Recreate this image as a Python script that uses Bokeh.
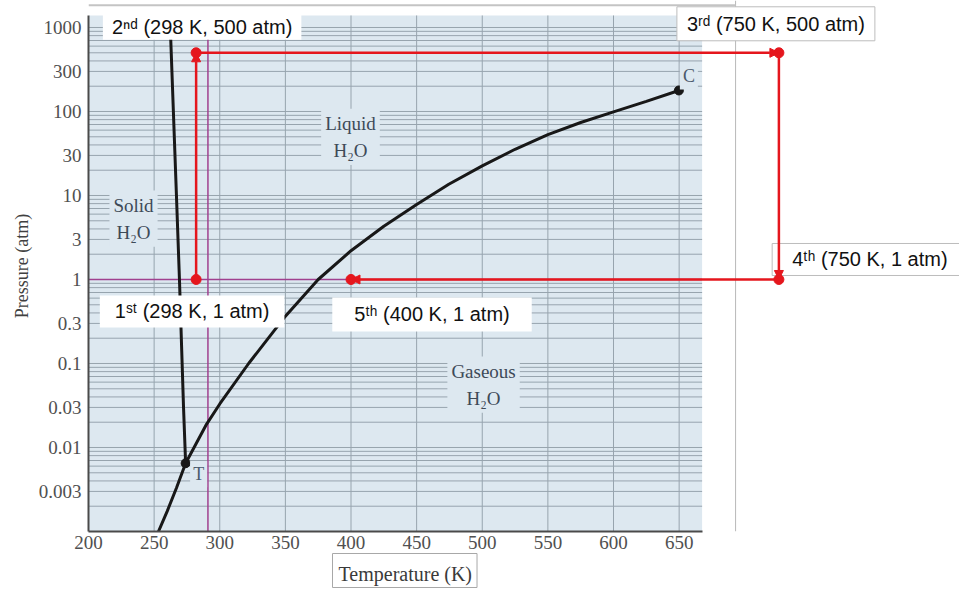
import numpy as np
from bokeh.plotting import figure
from bokeh.models import (ColumnDataSource, Label, Arrow, NormalHead, FixedTicker, Title,
                          CustomJSTickFormatter, Span, Range1d)
from bokeh.embed import file_html
from bokeh.resources import INLINE

# ---------------- data ----------------
x_ticks = [200, 250, 300, 350, 400, 450, 500, 550, 600, 650]
y_ticks = [0.003, 0.01, 0.03, 0.1, 0.3, 1, 3, 10, 30, 100, 300, 1000]
y_tick_labels = ["0.003", "0.01", "0.03", "0.1", "0.3", "1", "3", "10", "30", "100", "300", "1000"]

chart_T = [200, 667.5]      # temperature extent of the phase diagram (K)
chart_P = [0.001, 1390]     # pressure extent of the phase diagram (atm)

# solid-gas boundary (sublimation)
sub_T = [253.3, 260, 267, 274]
sub_P = [0.001, 0.00175, 0.0033, 0.0065]
# liquid-gas boundary (vaporization), triple point -> critical point
vap_T = [274, 290, 300, 322, 349, 375, 400, 425, 450, 474.5, 500, 525, 550, 575, 600, 625, 649.8]
vap_P = [0.0065, 0.019, 0.033, 0.1, 0.35, 1, 2.2, 4.3, 7.8, 13.6, 22.5, 35.5, 53, 74, 99, 132, 178]
# solid-liquid boundary (melting)
melt_T = [274, 272.4, 269.3, 267, 262]
melt_P = [0.0065, 0.03, 1, 10, 1390]

special_T = [274, 649.8]
special_P = [0.0065, 178]
special_names = ["T", "C"]

guide_T = 291   # purple vertical guide
guide_P = 1     # purple horizontal guide (1 atm)

path_T = [282, 282, 726, 726, 400]
path_P = [1, 500, 500, 1, 1]
path_labels = ["1\u02e2\u1d57 (298 K, 1 atm)", "2\u207f\u1d48 (298 K, 500 atm)",
               "3\u02b3\u1d48 (750 K, 500 atm)", "4\u1d57\u02b0 (750 K, 1 atm)",
               "5\u1d57\u02b0 (400 K, 1 atm)"]

phase_names = ["Solid\nH\u2082O", "Liquid\nH\u2082O", "Gaseous\nH\u2082O"]
phase_T = [234.3, 399.6, 501]
phase_P = [5.3, 50, 0.056]

frame_T = 693        # right edge of the pasted picture
frame_top_P = 1834   # top edge of the pasted picture

# ---------------- styles ----------------
BG = "#dde8f0"
GRID = "#97a4ae"
RED = "#e5161d"
PURPLE = "#a0408f"
BLACK = "#181818"
SERIF = "Liberation Serif"
SANS = "Liberation Sans"

p = figure(width=959, height=589, x_range=Range1d(200, 863.6), y_range=Range1d(0.001, 2096),
           y_axis_type="log", output_backend="svg", toolbar_location=None,
           min_border_left=88, min_border_right=0, min_border_top=0, min_border_bottom=58,
           background_fill_color="white", border_fill_color="white", outline_line_color=None)
p.xgrid.visible = False
p.ygrid.visible = False

# background of the diagram
p.quad(left=[chart_T[0]], right=[chart_T[1]], bottom=[chart_P[0]], top=[chart_P[1]],
       fill_color=BG, line_color=None)

# log-paper grid
h_vals = [k * 10.0 ** d for d in range(-3, 4) for k in range(1, 10)
          if chart_P[0] < k * 10.0 ** d <= chart_P[1]]
p.segment(x0=[chart_T[0]] * len(h_vals), x1=[chart_T[1]] * len(h_vals), y0=h_vals, y1=h_vals,
          line_color=GRID, line_width=1)
v_vals = [t for t in x_ticks if t > chart_T[0]]
p.segment(x0=v_vals, x1=v_vals, y0=[chart_P[0]] * len(v_vals), y1=[chart_P[1]] * len(v_vals),
          line_color=GRID, line_width=1)

# purple guides
p.segment(x0=[guide_T], x1=[guide_T], y0=[chart_P[0]], y1=[chart_P[1]], line_color=PURPLE, line_width=1.5)
p.segment(x0=[chart_T[0]], x1=[chart_T[1]], y0=[guide_P], y1=[guide_P], line_color=PURPLE, line_width=1.5)

# edges of the pasted picture
p.add_layout(Span(location=frame_T, dimension="height", line_color="#b8b8b8", line_width=1, level="underlay"))
p.segment(x0=[chart_T[0]], x1=[frame_T], y0=[frame_top_P], y1=[frame_top_P],
          line_color="#c4c4c4", line_width=2)

# phase boundaries
p.line(sub_T, sub_P, line_color=BLACK, line_width=3)
p.line(vap_T, vap_P, line_color=BLACK, line_width=3)
p.line(melt_T, melt_P, line_color=BLACK, line_width=3)
p.scatter(special_T, special_P, size=9, color=BLACK)

# axes
p.xaxis.ticker = FixedTicker(ticks=x_ticks)
p.xaxis.bounds = (chart_T[0], chart_T[1])
p.yaxis.ticker = FixedTicker(ticks=y_ticks, minor_ticks=[])
p.yaxis.bounds = (chart_P[0], chart_P[1])
p.yaxis.formatter = CustomJSTickFormatter(args=dict(vals=y_ticks, labels=y_tick_labels), code="""
    for (let i = 0; i < vals.length; i++) {
        if (Math.abs(vals[i] - tick) < 1e-9 * Math.max(1, Math.abs(tick))) return labels[i];
    }
    return "";
""")
for ax in (p.xaxis[0], p.yaxis[0]):
    ax.axis_line_color = "#4a4a4a"
    ax.axis_line_width = 2
    ax.major_tick_line_color = None
    ax.minor_tick_line_color = None
    ax.major_tick_out = 0
    ax.major_tick_in = 0
    ax.minor_tick_out = 0
    ax.minor_tick_in = 0
    ax.major_label_text_font = SERIF
    ax.major_label_text_font_size = "19px"
    ax.major_label_text_color = "#505050"
p.xaxis.major_label_standoff = 4
p.yaxis.major_label_standoff = 7
p.yaxis.axis_label = "Pressure (atm)"
p.yaxis.axis_label_text_font = SERIF
p.yaxis.axis_label_text_font_size = "18px"
p.yaxis.axis_label_text_font_style = "normal"
p.yaxis.axis_label_text_color = "#404040"
p.yaxis.axis_label_standoff = 4

# temperature axis title (in a bordered box)
p.add_layout(Title(text="Temperature (K)", align="left", offset=244, standoff=0,
                   text_font=SERIF, text_font_size="20px", text_font_style="normal",
                   text_color="#3a3a3a", background_fill_color="white",
                   border_line_color="#a8a8a8", padding=dict(left=6, right=5, top=9, bottom=3)),
             "below")

# phase labels
for name, t, pr in zip(phase_names, phase_T, phase_P):
    p.add_layout(Label(x=t, y=pr, text=name, text_align="center", text_baseline="middle",
                       text_font=SERIF, text_font_size="19px", text_color="#3d4a58",
                       text_line_height=1.3, background_fill_color=BG, padding=4))
# T and C labels
for name, t, pr, dx, dy in zip(special_names, special_T, special_P, [13, 10], [-11, 14]):
    p.add_layout(Label(x=t, y=pr, x_offset=dx, y_offset=dy, text=name, text_align="center",
                       text_baseline="middle", text_font=SERIF, text_font_size="18px",
                       text_color="#4b5a6c", background_fill_color=BG, padding=3))

# step labels
lab_dx = [-4, 6, -3, 91, 81]
lab_dy = [-32, 26, 29, 20, -35]
lab_border = [None, None, "#bdbdbd", "#bdbdbd", None]
lab_pad = [dict(left=15, right=15, top=5, bottom=5), dict(left=9, right=9, top=2, bottom=2),
           dict(left=10, right=10, top=6, bottom=6), dict(left=20, right=20, top=5, bottom=5),
           dict(left=22, right=22, top=6, bottom=6)]
for i in range(len(path_T)):
    p.add_layout(Label(x=path_T[i], y=path_P[i], x_offset=lab_dx[i], y_offset=lab_dy[i],
                       text=path_labels[i], text_align="center", text_baseline="middle",
                       text_font=SANS, text_font_size="20px", text_color="#111111",
                       background_fill_color="white", border_line_color=lab_border[i],
                       padding=lab_pad[i]))

# red path with arrows
seg = ColumnDataSource(dict(x0=path_T[:-1], y0=path_P[:-1], x1=path_T[1:], y1=path_P[1:]))
p.add_layout(Arrow(source=seg, x_start="x0", y_start="y0", x_end="x1", y_end="y1",
                   line_color=RED, line_width=2.5, level="overlay",
                   end=NormalHead(size=9, fill_color=RED, line_color=RED)))
dots = p.scatter(path_T, path_P, size=10, color=RED)
dots.level = "overlay"

open("out.html", "w").write(file_html(p, INLINE))
